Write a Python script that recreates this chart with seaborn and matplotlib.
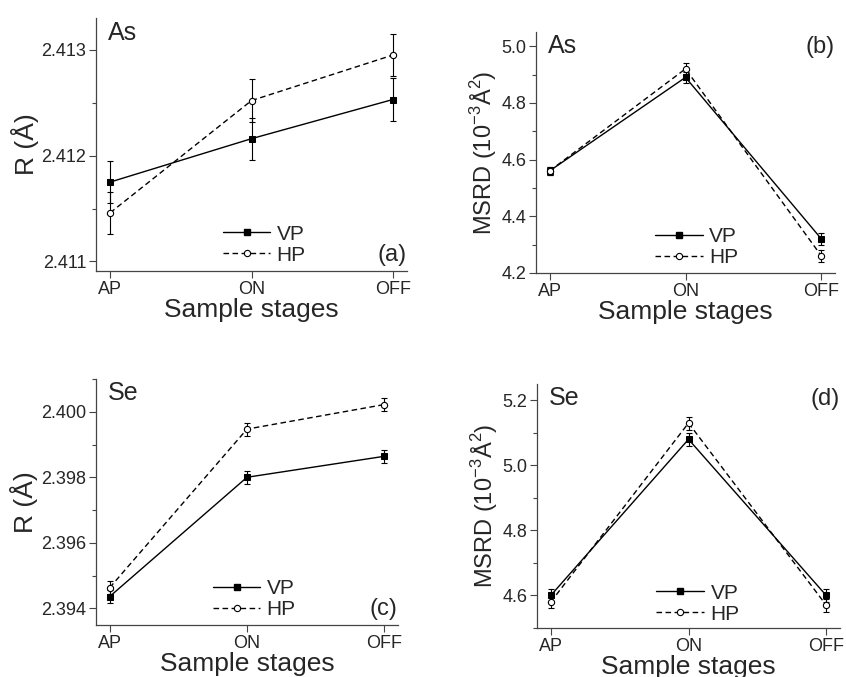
import numpy as np
import pandas as pd
import matplotlib
matplotlib.use("Agg")
import matplotlib.pyplot as plt
import seaborn as sns
from matplotlib.ticker import MultipleLocator, FormatStrFormatter
from matplotlib.lines import Line2D

sns.set_theme(style="ticks")
plt.rcParams['font.family'] = ['Liberation Sans', 'DejaVu Sans']
plt.rcParams['mathtext.fontset'] = 'custom'
plt.rcParams['mathtext.rm'] = 'Liberation Sans'

stages = ["AP", "ON", "OFF"]
series = ["VP", "HP"]

# (a) As R
as_r_vp = [2.41175, 2.41216, 2.41253]
as_r_vp_err = [0.0002, 0.0002, 0.0002]
as_r_hp = [2.41146, 2.41252, 2.41295]
as_r_hp_err = [0.0002, 0.0002, 0.0002]
# (b) As MSRD
as_m_vp = [4.56, 4.89, 4.32]
as_m_vp_err = [0.015, 0.02, 0.02]
as_m_hp = [4.56, 4.92, 4.26]
as_m_hp_err = [0.015, 0.02, 0.02]
# (c) Se R
se_r_vp = [2.39436, 2.39800, 2.39864]
se_r_vp_err = [0.0002, 0.0002, 0.0002]
se_r_hp = [2.39463, 2.39947, 2.40022]
se_r_hp_err = [0.0002, 0.0002, 0.0002]
# (d) Se MSRD
se_m_vp = [4.60, 5.08, 4.60]
se_m_vp_err = [0.02, 0.02, 0.02]
se_m_hp = [4.58, 5.13, 4.57]
se_m_hp_err = [0.02, 0.02, 0.02]

fig = plt.figure(figsize=(8.46, 6.77), dpi=100)

W, H = 846, 677
def rect(l, r, t, b):
    return [l / W, 1 - b / H, (r - l) / W, (b - t) / H]

msrd_label = "MSRD (10$^{\\mathregular{-3}}$Å$^{2}$)"
panels = [
    dict(rect=rect(96, 407, 18, 271), vp=as_r_vp, vpe=as_r_vp_err, hp=as_r_hp, hpe=as_r_hp_err,
         ylim=(2.41091, 2.4133), major=0.001, minor=0.0005, fmt="%.3f", ylabel="R (Å)", ylfs=19,
         elem="As", tag="(a)", leg=(0.407, 0.104)),
    dict(rect=rect(536, 835, 32, 273), vp=as_m_vp, vpe=as_m_vp_err, hp=as_m_hp, hpe=as_m_hp_err,
         ylim=(4.2, 5.05), major=0.2, minor=0.1, fmt="%.1f", ylabel=msrd_label, ylfs=17,
         elem="As", tag="(b)", leg=(0.397, 0.106)),
    dict(rect=rect(96, 398, 379, 625), vp=se_r_vp, vpe=se_r_vp_err, hp=se_r_hp, hpe=se_r_hp_err,
         ylim=(2.39349, 2.4010), major=0.002, minor=0.001, fmt="%.3f", ylabel="R (Å)", ylfs=19,
         elem="Se", tag="(c)", leg=(0.386, 0.104)),
    dict(rect=rect(537, 840, 384, 628), vp=se_m_vp, vpe=se_m_vp_err, hp=se_m_hp, hpe=se_m_hp_err,
         ylim=(4.5, 5.25), major=0.2, minor=0.1, fmt="%.1f", ylabel=msrd_label, ylfs=17,
         elem="Se", tag="(d)", leg=(0.394, 0.10)),
]

spine_c = "#444444"
for p in panels:
    ax = fig.add_axes(p["rect"])
    df = pd.DataFrame({
        "pos": list(range(3)) * 2,
        "val": p["vp"] + p["hp"],
        "err": p["vpe"] + p["hpe"],
        "series": ["VP"] * 3 + ["HP"] * 3,
    })
    sns.lineplot(data=df, x="pos", y="val", style="series", style_order=series,
                 markers={"VP": "s", "HP": "o"}, dashes={"VP": "", "HP": (4, 2.5)},
                 color="black", linewidth=1.0, markersize=4.5, ax=ax, legend=False)
    lines = ax.get_lines()
    lines[0].set_markerfacecolor("black"); lines[0].set_markeredgecolor("black")
    lines[1].set_markerfacecolor("white"); lines[1].set_markeredgecolor("black")
    lines[1].set_markeredgewidth(0.8)
    for s in series:
        sub = df[df.series == s]
        ax.errorbar(sub["pos"], sub["val"], yerr=sub["err"], fmt="none",
                    ecolor="black", elinewidth=0.8, capsize=2.5, capthick=0.8, zorder=1)
    ax.set_xlim(-0.1, 2.1)
    ax.set_ylim(*p["ylim"])
    ax.set_xticks(range(3))
    ax.set_xticklabels(stages)
    ax.yaxis.set_major_locator(MultipleLocator(p["major"]))
    ax.yaxis.set_minor_locator(MultipleLocator(p["minor"]))
    ax.yaxis.set_major_formatter(FormatStrFormatter(p["fmt"]))
    ax.tick_params(axis="both", which="major", direction="out", length=5, width=0.8,
                   labelsize=13, color=spine_c, pad=2)
    ax.tick_params(axis="y", which="minor", direction="out", length=3, width=0.8, color=spine_c)
    for side in ["top", "right"]:
        ax.spines[side].set_visible(False)
    for side in ["left", "bottom"]:
        ax.spines[side].set_color(spine_c)
        ax.spines[side].set_linewidth(0.9)
    ax.set_xlabel("Sample stages", fontsize=19, labelpad=0)
    ax.set_ylabel(p["ylabel"], fontsize=p["ylfs"], labelpad=2)
    ax.text(0.04, 0.99, p["elem"], transform=ax.transAxes, fontsize=18, va="top", ha="left")
    top_tag = p["tag"] in ("(b)", "(d)")
    ax.text(0.998, 0.985 if top_tag else 0.02, p["tag"], transform=ax.transAxes,
            fontsize=17, va="top" if top_tag else "bottom", ha="right")
    h1 = Line2D([], [], color="black", lw=1.0, marker="s", markersize=4.5)
    h2 = Line2D([], [], color="black", lw=1.0, ls=(0, (4, 2.5)), marker="o", markersize=4.5,
                markerfacecolor="white", markeredgewidth=0.8)
    ax.legend([h1, h2], series, loc="center left", bbox_to_anchor=p["leg"], frameon=False,
              fontsize=15, handlelength=2.3, handletextpad=0.3, labelspacing=0.1,
              borderaxespad=0, borderpad=0)

fig.savefig("out.png", dpi=100)
